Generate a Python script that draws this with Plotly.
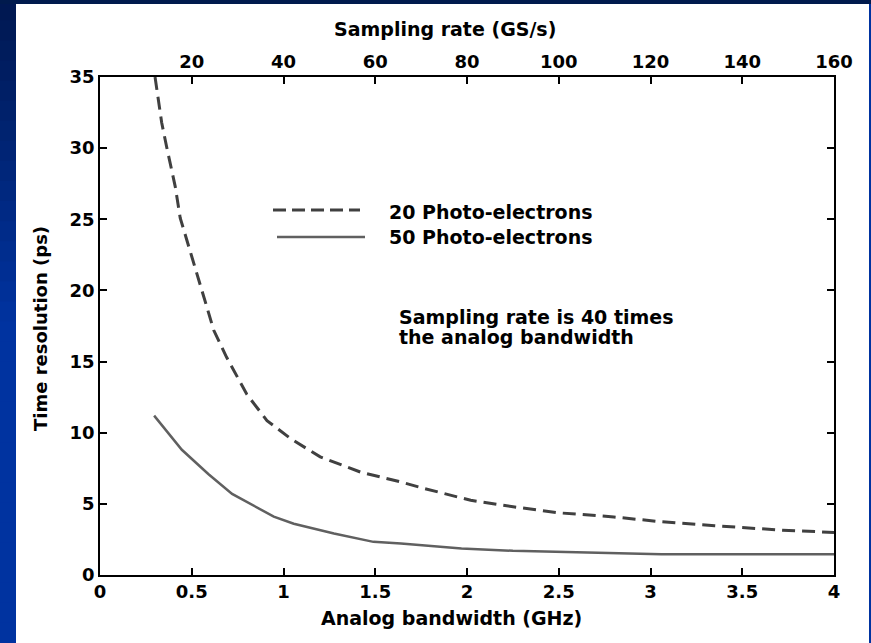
import plotly.graph_objects as go

# ---- data ----
bw_20 = [0.30, 0.336, 0.363, 0.41, 0.437, 0.464, 0.546, 0.62, 0.69, 0.80, 0.91, 1.04,
         1.20, 1.42, 1.53, 1.64, 1.77, 2.02, 2.26, 2.50, 2.80, 3.06, 3.35, 3.72, 4.00]
res_20 = [35.0, 31.8, 30.1, 27.3, 25.1, 23.9, 20.4, 17.2, 15.3, 12.7, 10.85, 9.57,
          8.3, 7.23, 6.89, 6.54, 6.07, 5.25, 4.78, 4.37, 4.08, 3.74, 3.46, 3.15, 2.99]

bw_50 = [0.295, 0.446, 0.59, 0.72, 0.947, 1.056, 1.275, 1.49, 1.64, 1.97, 2.25, 2.53,
         2.80, 3.06, 4.00]
res_50 = [11.2, 8.8, 7.1, 5.7, 4.1, 3.6, 2.92, 2.33, 2.22, 1.87, 1.70, 1.63,
          1.52, 1.45, 1.45]

x_ticks = [0, 0.5, 1, 1.5, 2, 2.5, 3, 3.5, 4]
y_ticks = [0, 5, 10, 15, 20, 25, 30, 35]
top_ticks = [20, 40, 60, 80, 100, 120, 140, 160]

series_names = ["20 Photo-electrons", "50 Photo-electrons"]

FONT = "DejaVu Sans"
W, H = 871, 643
L, R, T, B = 100, 37, 77, 68
PW, PH = W - L - R, H - T - B


def px(xp):
    return (xp - L) / PW


def py(yp):
    return (H - B - yp) / PH


fig = go.Figure()
fig.add_trace(go.Scatter(x=bw_20, y=res_20, mode="lines", name=series_names[0],
                         line=dict(color="#404040", width=3, dash="13px,7px"),
                         showlegend=False))
fig.add_trace(go.Scatter(x=bw_50, y=res_50, mode="lines", name=series_names[1],
                         line=dict(color="#606060", width=2.5),
                         showlegend=False))
# invisible trace to activate the top axis
fig.add_trace(go.Scatter(x=[top_ticks[0]], y=[None], xaxis="x2", mode="lines",
                         showlegend=False, hoverinfo="skip"))

tickfont = dict(family=FONT, size=18, color="black", weight="bold")
axis_common = dict(showgrid=False, zeroline=False, showline=True, linecolor="black",
                   linewidth=1.5, ticks="inside", ticklen=7, tickwidth=1.5,
                   tickcolor="black", tickfont=tickfont)

fig.update_layout(
    width=W, height=H,
    margin=dict(l=L, r=R, t=T, b=B),
    paper_bgcolor="#0033a0",
    plot_bgcolor="white",
    xaxis=dict(range=[0, 4], tickvals=x_ticks, ticktext=[f"{v:g}" for v in x_ticks],
               mirror=False, **axis_common),
    xaxis2=dict(range=[0, 160], tickvals=top_ticks, overlaying="x", side="top",
                anchor="y", **axis_common),
    yaxis=dict(range=[0, 35], tickvals=y_ticks, mirror="ticks", **axis_common),
)

shapes = []
# background: dark-blue gradient strip on the left, white panel
n = 32
for i in range(n):
    y0p = H * i / n
    y1p = H * (i + 1) / n + 1
    t = min(1.0, (y0p + y1p) / 2 / 320)
    g = int(24 + (51 - 24) * t)
    b = int(80 + (160 - 80) * t)
    shapes.append(dict(type="rect", xref="paper", yref="paper", layer="below",
                       x0=px(0), x1=px(16), y0=py(y1p), y1=py(y0p),
                       fillcolor=f"rgb(0,{g},{b})", line=dict(width=0)))
shapes.append(dict(type="rect", xref="paper", yref="paper", layer="below",
                   x0=px(0), x1=px(W), y0=py(4), y1=py(0),
                   fillcolor="#001a4d", line=dict(width=0)))
shapes.append(dict(type="rect", xref="paper", yref="paper", layer="below",
                   x0=px(16), x1=px(869), y0=py(H), y1=py(4),
                   fillcolor="white", line=dict(width=0)))
# legend lines
shapes.append(dict(type="line", xref="paper", yref="paper",
                   x0=px(273), x1=px(360), y0=py(210), y1=py(210),
                   line=dict(color="#404040", width=3, dash="13px,6px")))
shapes.append(dict(type="line", xref="paper", yref="paper",
                   x0=px(277), x1=px(365), y0=py(237), y1=py(237),
                   line=dict(color="#606060", width=2.5)))

txt = dict(family=FONT, size=19, color="black", weight="bold")
annotations = [
    dict(text="Sampling rate (GS/s)", x=px(445), y=py(29), xref="paper", yref="paper",
         showarrow=False, xanchor="center", yanchor="middle", font=txt),
    dict(text="Analog bandwidth (GHz)", x=px(451), y=py(618), xref="paper", yref="paper",
         showarrow=False, xanchor="center", yanchor="middle", font=txt),
    dict(text="Time resolution (ps)", x=px(40), y=py(329), xref="paper", yref="paper",
         showarrow=False, xanchor="center", yanchor="middle", textangle=-90,
         font=dict(family=FONT, size=18, color="black", weight="bold")),
    dict(text=series_names[0], x=px(387), y=py(212), xref="paper", yref="paper",
         showarrow=False, xanchor="left", yanchor="middle", font=txt),
    dict(text=series_names[1], x=px(387), y=py(237), xref="paper", yref="paper",
         showarrow=False, xanchor="left", yanchor="middle", font=txt),
    dict(text="Sampling rate is 40 times", x=px(397), y=py(317), xref="paper",
         yref="paper", showarrow=False, xanchor="left", yanchor="middle", font=txt),
    dict(text="the analog bandwidth", x=px(397), y=py(337), xref="paper",
         yref="paper", showarrow=False, xanchor="left", yanchor="middle", font=txt),
]

fig.update_layout(shapes=shapes, annotations=annotations)
fig.write_html("out.html", config={"displayModeBar": False},
               post_script="document.body.style.margin='0';document.body.style.padding='0';")
